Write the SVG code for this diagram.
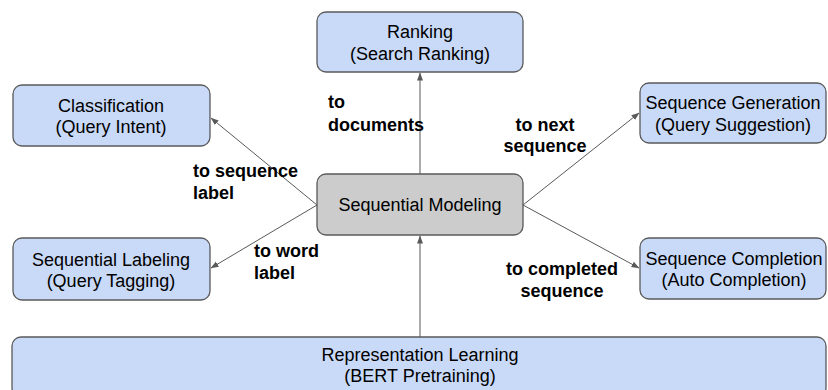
<svg xmlns="http://www.w3.org/2000/svg" width="828" height="390" viewBox="0 0 828 390">
<style>
.box{fill:#c9daf8;stroke:#595959;stroke-width:1.3}
.gray{fill:#cccccc;stroke:#595959;stroke-width:1.3}
.t{font-family:"Liberation Sans",Arial,sans-serif;font-size:18px;fill:#000;text-anchor:middle}
.lb{font-family:"Liberation Sans",Arial,sans-serif;font-size:18px;font-weight:bold;fill:#000}
.c{stroke:#595959;stroke-width:1;fill:none;marker-end:url(#ah)}
</style>
<defs>
<marker id="ah" markerUnits="userSpaceOnUse" markerWidth="8" markerHeight="8" viewBox="0 0 8 8" refX="7.5" refY="4" orient="auto">
<path d="M0,1 L8,4 L0,7 Z" fill="#595959"/>
</marker>
</defs>
<g id="connectors">
<line class="c" x1="420" y1="174" x2="420" y2="73"/>
<line class="c" x1="420" y1="337" x2="420" y2="236"/>
<line class="c" x1="317" y1="205" x2="211" y2="118"/>
<line class="c" x1="317" y1="205" x2="211" y2="268"/>
<line class="c" x1="523" y1="205" x2="639" y2="113"/>
<line class="c" x1="523" y1="205" x2="639" y2="268"/>
</g>
<g id="ranking">
<rect class="box" x="317" y="12" width="206" height="60" rx="9"/>
<text class="t" x="420" y="38">Ranking</text>
<text class="t" x="420" y="60">(Search Ranking)</text>
</g>
<g id="classification">
<rect class="box" x="13" y="85" width="197" height="61" rx="9"/>
<text class="t" x="111" y="112">Classification</text>
<text class="t" x="111" y="133">(Query Intent)</text>
</g>
<g id="sequential-modeling">
<rect class="gray" x="317" y="174" width="206" height="61" rx="9"/>
<text class="t" x="420" y="211">Sequential Modeling</text>
</g>
<g id="sequence-generation">
<rect class="box" x="640" y="83" width="186" height="60" rx="9"/>
<text class="t" x="733" y="109">Sequence Generation</text>
<text class="t" x="733" y="131">(Query Suggestion)</text>
</g>
<g id="sequential-labeling">
<rect class="box" x="13" y="238" width="197" height="62" rx="9"/>
<text class="t" x="111" y="266">Sequential Labeling</text>
<text class="t" x="111" y="287">(Query Tagging)</text>
</g>
<g id="sequence-completion">
<rect class="box" x="640" y="238" width="186" height="61" rx="9"/>
<text class="t" x="734" y="265">Sequence Completion</text>
<text class="t" x="734" y="286">(Auto Completion)</text>
</g>
<g id="representation-learning">
<rect class="box" x="12" y="337" width="814" height="60" rx="9"/>
<text class="t" x="420" y="361">Representation Learning</text>
<text class="t" x="420" y="382">(BERT Pretraining)</text>
</g>
<g id="labels">
<text class="lb" x="328" y="108">to</text>
<text class="lb" x="328" y="131">documents</text>
<text class="lb" x="193" y="177">to sequence</text>
<text class="lb" x="193" y="199">label</text>
<text class="lb" x="254" y="257">to word</text>
<text class="lb" x="254" y="279">label</text>
<text class="lb" x="545" y="131" text-anchor="middle">to next</text>
<text class="lb" x="545" y="152" text-anchor="middle">sequence</text>
<text class="lb" x="562" y="275" text-anchor="middle">to completed</text>
<text class="lb" x="562" y="297" text-anchor="middle">sequence</text>
</g>
</svg>
